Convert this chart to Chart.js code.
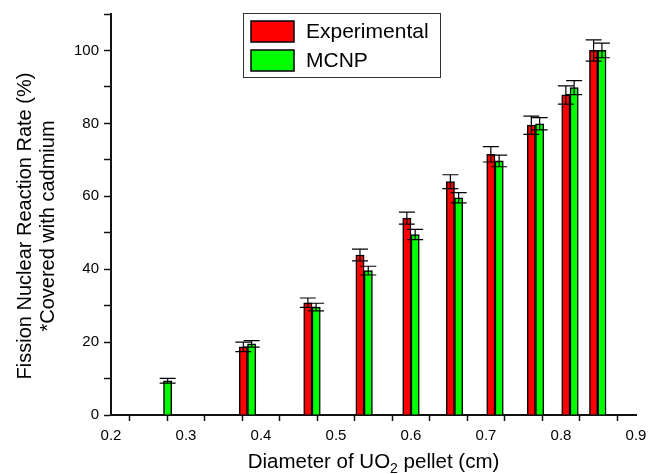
<!DOCTYPE html>
<html>
<head>
<meta charset="utf-8">
<script src="https://cdn.jsdelivr.net/npm/chart.js@4"></script>
<style>
  html, body { margin: 0; padding: 0; background: #fff; }
  #wrap { width: 657px; height: 474px; }
</style>
</head>
<body>
<div id="wrap"><canvas id="chart"></canvas></div>
<script>
// pellet diameters (cm) for each pair of bars
const diameters = [0.27, 0.382, 0.468, 0.5375, 0.60, 0.658, 0.712, 0.766, 0.812, 0.849];
const experimental = [null, 18.7, 30.8, 43.9, 54.0, 64.0, 71.5, 79.5, 87.8, 100];
const experimentalErr = [null, 1.3, 1.3, 1.6, 1.65, 1.9, 2.1, 2.5, 2.5, 2.9];
const mcnp = [9.4, 19.5, 29.6, 39.6, 49.5, 59.6, 69.7, 79.9, 89.8, 100];
const mcnpErr = [0.65, 0.9, 1.05, 1.2, 1.4, 1.4, 1.6, 1.7, 1.9, 2.0];
const seriesNames = ['Experimental', 'MCNP'];
const yTitle = ['Fission Nuclear Reaction Rate (%)', '*Covered with cadmium'];

const FONT = '"Liberation Sans", Arial, Helvetica, sans-serif';

function toPoints(vals) {
  return diameters.map((d, i) => ({ x: d, y: vals[i] }));
}

// error bars, legend box and axis titles
const extras = {
  id: 'extras',
  afterDatasetsDraw(chart) {
    const ctx = chart.ctx;
    const yScale = chart.scales.y;
    const errs = [experimentalErr, mcnpErr];
    ctx.save();
    ctx.strokeStyle = '#000';
    ctx.lineWidth = 1.2;
    chart.data.datasets.forEach((ds, di) => {
      const meta = chart.getDatasetMeta(di);
      meta.data.forEach((bar, i) => {
        const v = ds.data[i].y;
        const e = errs[di][i];
        if (v == null || e == null) return;
        const cx = bar.x;
        const top = yScale.getPixelForValue(v + e);
        const bot = yScale.getPixelForValue(v - e);
        ctx.beginPath();
        ctx.moveTo(cx, top); ctx.lineTo(cx, bot);
        ctx.moveTo(cx - 8, top); ctx.lineTo(cx + 8, top);
        ctx.moveTo(cx - 8, bot); ctx.lineTo(cx + 8, bot);
        ctx.stroke();
      });
    });
    ctx.restore();
  },
  afterDraw(chart) {
    const ctx = chart.ctx;
    const area = chart.chartArea;
    ctx.save();
    // legend
    ctx.strokeStyle = '#333';
    ctx.lineWidth = 1;
    ctx.strokeRect(243.5, 13.5, 197, 64);
    chart.data.datasets.forEach((ds, i) => {
      const y = 21 + i * 29;
      ctx.fillStyle = ds.backgroundColor;
      ctx.fillRect(251, y, 43, 21);
      ctx.strokeStyle = '#000';
      ctx.lineWidth = 1.5;
      ctx.strokeRect(251, y, 43, 21);
      ctx.fillStyle = '#000';
      ctx.font = '21px ' + FONT;
      ctx.textBaseline = 'middle';
      ctx.fillText(ds.label, 306, y + 11);
    });

    // y axis title, two lines
    ctx.fillStyle = '#000';
    ctx.font = '20px ' + FONT;
    ctx.textAlign = 'center';
    ctx.textBaseline = 'middle';
    ctx.save();
    ctx.translate(0, 226);
    ctx.rotate(-Math.PI / 2);
    ctx.fillText(yTitle[0], 0, 25);
    ctx.fillText(yTitle[1], 0, 48);
    ctx.restore();

    // x axis title with subscript
    ctx.textBaseline = 'alphabetic';
    ctx.textAlign = 'left';
    const a = 'Diameter of UO', sub = '2', b = ' pellet (cm)';
    ctx.font = '20.5px ' + FONT;
    const wa = ctx.measureText(a).width, wb = ctx.measureText(b).width;
    ctx.font = '14px ' + FONT;
    const ws = ctx.measureText(sub).width;
    let x = (area.left + area.right) / 2 - (wa + ws + wb) / 2;
    const base = 468;
    ctx.font = '20.5px ' + FONT;
    ctx.fillText(a, x, base);
    x += wa;
    ctx.font = '14px ' + FONT;
    ctx.fillText(sub, x, base + 5);
    x += ws;
    ctx.font = '20.5px ' + FONT;
    ctx.fillText(b, x, base);
    ctx.restore();
  }
};

const ctx = document.getElementById('chart').getContext('2d');
new Chart(ctx, {
  type: 'bar',
  data: {
    datasets: [
      {
        label: seriesNames[0],
        data: toPoints(experimental),
        backgroundColor: '#ff0000',
        borderColor: '#000',
        borderWidth: 1.5,
        barThickness: 8.3
      },
      {
        label: seriesNames[1],
        data: toPoints(mcnp),
        backgroundColor: '#00ff00',
        borderColor: '#000',
        borderWidth: 1.5,
        barThickness: 8.3
      }
    ]
  },
  options: {
    responsive: true,
    maintainAspectRatio: false,
    animation: false,
    layout: {
      padding: { top: 14, right: 21, left: 0, bottom: 0 }
    },
    scales: {
      x: {
        type: 'linear',
        min: 0.2,
        max: 0.9,
        offset: false,
        afterFit: s => { s.height = 59; },
        grid: {
          drawOnChartArea: false,
          drawTicks: true,
          tickLength: 6,
          tickColor: '#111',
          tickWidth: 1.5
        },
        border: { display: true, color: '#111', width: 2 },
        ticks: {
          stepSize: 0.05,
          autoSkip: false,
          maxRotation: 0,
          padding: 6,
          color: '#000',
          font: { size: 15, family: FONT },
          callback: v => Math.abs(v * 10 - Math.round(v * 10)) < 1e-6 ? v.toFixed(1) : ''
        }
      },
      y: {
        min: 0,
        max: 110,
        afterFit: s => { s.width = 111; },
        grid: {
          drawOnChartArea: false,
          drawTicks: true,
          tickLength: 7,
          tickColor: '#111',
          tickWidth: 1.5
        },
        border: { display: true, color: '#111', width: 2 },
        ticks: {
          stepSize: 10,
          autoSkip: false,
          padding: 5,
          color: '#000',
          font: { size: 15, family: FONT },
          callback: v => (v % 20 === 0 && v <= 100) ? String(v) : ''
        }
      }
    },
    plugins: {
      legend: { display: false },
      tooltip: { enabled: false }
    }
  },
  plugins: [extras]
});
</script>
</body>
</html>
